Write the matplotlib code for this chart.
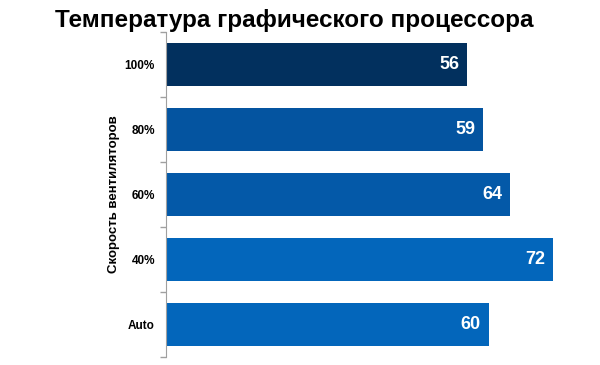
import numpy as np
import matplotlib.pyplot as plt

categories = ['100%', '80%', '60%', '40%', 'Auto']
temps = [56, 59, 64, 72, 60]
colors = ['#02305e', '#0454a0', '#0459a8', '#0366bb', '#0366bb']

plt.rcParams['font.family'] = ['Liberation Sans', 'DejaVu Sans']

fig = plt.figure(figsize=(6, 3.65), dpi=100)
ax = fig.add_axes([0.2767, 0.022, 0.7167, 0.89])

y = np.arange(len(categories))
ax.barh(y, temps, height=0.66, color=colors)
for yi, v in zip(y, temps):
    ax.text(v - 1.5, yi, str(v), ha='right', va='center', color='white',
            fontsize=13, fontweight='bold')

ax.set_xlim(0, 80)
ax.set_ylim(len(categories) - 0.5, -0.5)
ax.set_yticks(y)
ax.set_yticklabels(categories, fontsize=8.5, fontweight='bold')
ax.set_yticks(np.arange(len(categories) + 1) - 0.5, minor=True)
ax.tick_params(axis='y', which='major', length=0, pad=8)
ax.tick_params(axis='y', which='minor', length=4, color='#a0a0a0', width=1)
ax.set_xticks([])
for s in ['top', 'right', 'bottom']:
    ax.spines[s].set_visible(False)
ax.spines['left'].set_color('#a0a0a0')
ax.set_ylabel('Скорость вентиляторов', fontsize=9.5, fontweight='bold', labelpad=3)

fig.text(0.49, 0.945, 'Температура графического процессора', ha='center', va='center',
         fontsize=17.5, fontweight='bold')

plt.savefig('out.png')
